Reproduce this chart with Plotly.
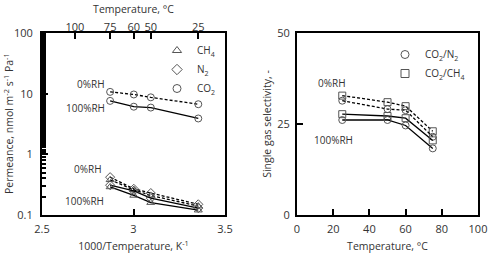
import plotly.graph_objects as go

# ---- data: left panel (permeance vs 1000/T) ----
temps_c = [75, 60, 50, 25]
inv_t = [1000.0 / (t + 273.15) for t in temps_c]

co2_dry = [10.7, 9.7, 8.7, 6.7]
co2_wet = [7.6, 6.1, 5.9, 3.9]
n2_dry = [0.42, 0.27, 0.23, 0.15]
ch4_dry = [0.38, 0.26, 0.21, 0.14]
n2_wet = [0.31, 0.25, 0.19, 0.13]
ch4_wet = [0.29, 0.21, 0.16, 0.12]

top_ticks_c = [100, 75, 60, 50, 25]

# ---- data: right panel (selectivity vs T) ----
sel_temps = [25, 50, 60, 75]
co2ch4_dry = [32.8, 31.0, 29.9, 23.0]
co2n2_dry = [31.4, 29.1, 28.8, 21.5]
co2ch4_wet = [27.7, 27.2, 26.6, 20.5]
co2n2_wet = [26.1, 26.1, 24.6, 18.3]

FONT = "Open Sans"
TXT = "#333333"
MK = "#555555"
W, H = 489, 253
ML, MR, MT, MB = 42, 11, 33, 38
PW, PH = W - ML - MR, H - MT - MB

fig = go.Figure()

def add(x, y, sym, dash, xa, ya, width=1.3):
    fig.add_trace(go.Scatter(
        x=x, y=y, xaxis=xa, yaxis=ya, mode="lines+markers",
        line=dict(color="black", width=width, dash=dash),
        marker=dict(symbol=sym + "-open", size=7, color=MK, line=dict(width=1)),
        showlegend=False))

DASH = "3px,2px"
add(inv_t, co2_dry, "circle", DASH, "x", "y")
add(inv_t, co2_wet, "circle", "solid", "x", "y")
add(inv_t, n2_dry, "diamond", DASH, "x", "y")
add(inv_t, ch4_dry, "triangle-up", DASH, "x", "y")
add(inv_t, n2_wet, "diamond", "solid", "x", "y")
add(inv_t, ch4_wet, "triangle-up", "solid", "x", "y")

add(sel_temps, co2ch4_dry, "square", DASH, "x2", "y2")
add(sel_temps, co2n2_dry, "circle", DASH, "x2", "y2")
add(sel_temps, co2ch4_wet, "square", "solid", "x2", "y2")
add(sel_temps, co2n2_wet, "circle", "solid", "x2", "y2")

# invisible trace for top axis
fig.add_trace(go.Scatter(x=inv_t, y=co2_dry, xaxis="x3", yaxis="y",
                         mode="markers", marker=dict(opacity=0),
                         showlegend=False, hoverinfo="skip"))

# legend entries
for name, sym in [("CH<sub>4</sub>", "triangle-up"), ("N<sub>2</sub>", "diamond"),
                  ("CO<sub>2</sub>", "circle")]:
    fig.add_trace(go.Scatter(x=[None], y=[None], xaxis="x", yaxis="y", mode="markers",
                             name=name, legend="legend",
                             marker=dict(symbol=sym + "-open", size=8, color=MK,
                                         line=dict(width=1))))
for name, sym in [("CO<sub>2</sub>/N<sub>2</sub>", "circle"),
                  ("CO<sub>2</sub>/CH<sub>4</sub>", "square")]:
    fig.add_trace(go.Scatter(x=[None], y=[None], xaxis="x2", yaxis="y2", mode="markers",
                             name=name, legend="legend2",
                             marker=dict(symbol=sym + "-open", size=8, color=MK,
                                         line=dict(width=1))))

axcommon = dict(showline=True, linecolor="black", linewidth=2, mirror=True,
                ticks="inside", tickcolor="black", tickwidth=2, ticklen=6,
                showgrid=False, zeroline=False, automargin=False,
                tickfont=dict(family=FONT, size=11, color=TXT))

def px2x(px):
    return (px - ML) / PW

def px2y(py):
    return 1 - (py - MT) / PH

fig.update_layout(
    width=W, height=H, margin=dict(l=ML, r=MR, t=MT, b=MB, autoexpand=False),
    plot_bgcolor="white", paper_bgcolor="white",
    font=dict(family=FONT, color=TXT, size=11),
    xaxis=dict(domain=[px2x(42), px2x(225)], anchor="y", range=[2.5, 3.5],
               tickvals=[2.5, 3, 3.5], ticktext=["2.5", "3", "3.5"],
               ticklabelstandoff=3,
               title=dict(text="1000/Temperature, K<sup>-1</sup>", standoff=8,
                          font=dict(size=10.5)),
               **axcommon),
    yaxis=dict(domain=[0, 1], anchor="x", type="log", range=[-1, 2],
               tickvals=[0.1, 1, 10, 100], ticktext=["0.1", "1", "10", "100"],
               ticklabelstandoff=5,
               minor=dict(ticks="inside", ticklen=4, tickcolor="black", tickwidth=1.5),
               **axcommon),
    xaxis3=dict(overlaying="x", anchor="y", side="top", range=[2.5, 3.5],
                tickvals=[1000.0 / (t + 273.15) for t in top_ticks_c],
                ticktext=[str(t) for t in top_ticks_c],
                ticks="inside", ticklen=6, tickwidth=1.5, tickcolor="black",
                ticklabelstandoff=-1,
                showline=False, showgrid=False, zeroline=False, automargin=False,
                tickfont=dict(family=FONT, size=11, color=TXT),
                title=dict(text="Temperature, °C", standoff=3, font=dict(size=10.5))),
    xaxis2=dict(domain=[px2x(297), px2x(478)], anchor="y2", range=[0, 100],
                tickvals=[0, 20, 40, 60, 80, 100],
                ticklabelstandoff=3,
                title=dict(text="Temperature, °C", standoff=8, font=dict(size=10.5)),
                **axcommon),
    yaxis2=dict(domain=[0, 1], anchor="x2", range=[0, 50], tickvals=[0, 25, 50],
                ticklabelstandoff=3,
                title=dict(text="Single gas selectivity, -", standoff=4,
                           font=dict(size=10.5)),
                **axcommon),
    legend=dict(x=157 / W, y=1 - 36 / H, xref="container", yref="container",
                xanchor="left", yanchor="top",
                bgcolor="rgba(0,0,0,0)", tracegroupgap=0, itemwidth=30,
                font=dict(family=FONT, size=10, color=TXT)),
    legend2=dict(x=385 / W, y=1 - 40 / H, xref="container", yref="container",
                 xanchor="left", yanchor="top",
                 bgcolor="rgba(0,0,0,0)", itemwidth=30,
                 font=dict(family=FONT, size=10, color=TXT)),
)

# left y-axis title (as rotated annotation)
fig.add_annotation(text="Permeance, nmol m<sup>-2</sup> s<sup>-1</sup> Pa<sup>-1</sup>",
                   x=px2x(8), y=px2y(124), xref="paper", yref="paper",
                   xanchor="center", yanchor="middle", textangle=-90,
                   showarrow=False, font=dict(family=FONT, size=10.5, color=TXT))

notes = [
    dict(text="0%RH", x=91, y=84),
    dict(text="100%RH", x=85, y=108),
    dict(text="0%RH", x=88, y=169),
    dict(text="100%RH", x=84, y=201),
    dict(text="0%RH", x=332, y=83),
    dict(text="100%RH", x=333, y=140),
]
for n in notes:
    fig.add_annotation(text=n["text"], x=px2x(n["x"]), y=px2y(n["y"]),
                       xref="paper", yref="paper",
                       xanchor="center", yanchor="middle",
                       showarrow=False, font=dict(family=FONT, size=10, color=TXT))

fig.write_html("out.html")
